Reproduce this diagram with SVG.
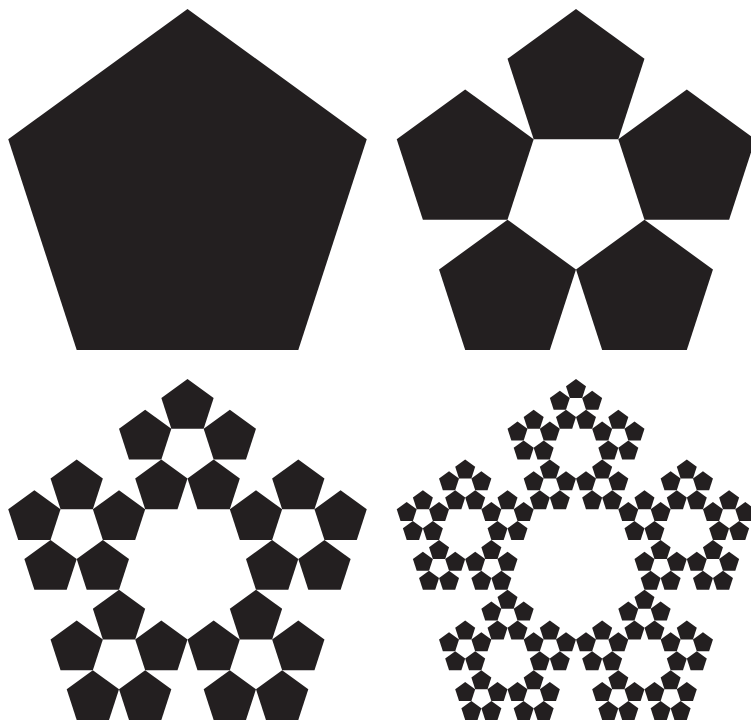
<svg xmlns="http://www.w3.org/2000/svg" xmlns:xlink="http://www.w3.org/1999/xlink" width="751" height="722" viewBox="0 0 751 722">
  <style>
    .fill { fill: #231f20; stroke: none; }
  </style>
  <defs>
    <polygon id="p0" class="fill" points="0,-188.5 179.27,-58.25 110.8,152.5 -110.8,152.5 -179.27,-58.25"/>
    <g id="p1">
      <use href="#p0" xlink:href="#p0" transform="translate(0,-116.5) scale(0.381966)"/>
      <use href="#p0" xlink:href="#p0" transform="translate(110.8,-36) scale(0.381966)"/>
      <use href="#p0" xlink:href="#p0" transform="translate(68.48,94.25) scale(0.381966)"/>
      <use href="#p0" xlink:href="#p0" transform="translate(-68.48,94.25) scale(0.381966)"/>
      <use href="#p0" xlink:href="#p0" transform="translate(-110.8,-36) scale(0.381966)"/>
    </g>
    <g id="p2">
      <use href="#p1" xlink:href="#p1" transform="translate(0,-116.5) scale(0.381966)"/>
      <use href="#p1" xlink:href="#p1" transform="translate(110.8,-36) scale(0.381966)"/>
      <use href="#p1" xlink:href="#p1" transform="translate(68.48,94.25) scale(0.381966)"/>
      <use href="#p1" xlink:href="#p1" transform="translate(-68.48,94.25) scale(0.381966)"/>
      <use href="#p1" xlink:href="#p1" transform="translate(-110.8,-36) scale(0.381966)"/>
    </g>
    <g id="p3">
      <use href="#p2" xlink:href="#p2" transform="translate(0,-116.5) scale(0.381966)"/>
      <use href="#p2" xlink:href="#p2" transform="translate(110.8,-36) scale(0.381966)"/>
      <use href="#p2" xlink:href="#p2" transform="translate(68.48,94.25) scale(0.381966)"/>
      <use href="#p2" xlink:href="#p2" transform="translate(-68.48,94.25) scale(0.381966)"/>
      <use href="#p2" xlink:href="#p2" transform="translate(-110.8,-36) scale(0.381966)"/>
    </g>
  </defs>
  <g id="level0"><use href="#p0" xlink:href="#p0" transform="translate(187.5,197.5)"/></g>
  <g id="level1"><use href="#p1" xlink:href="#p1" transform="translate(576,197.5)"/></g>
  <g id="level2"><use href="#p2" xlink:href="#p2" transform="translate(187.5,567.5)"/></g>
  <g id="level3"><use href="#p3" xlink:href="#p3" transform="translate(576,567.5)"/></g>
</svg>
